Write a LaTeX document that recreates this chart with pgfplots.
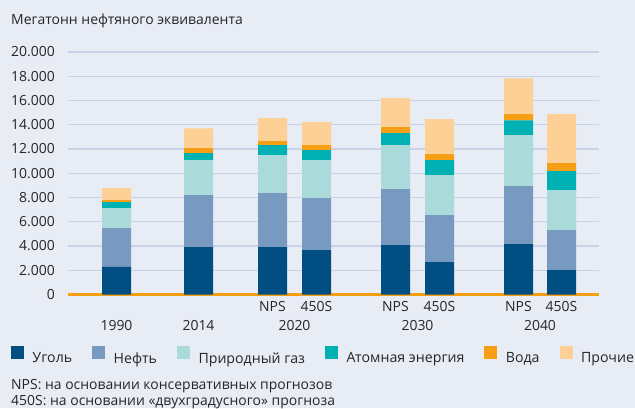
\documentclass[border=0pt]{standalone}
\usepackage{fontspec}
\setmainfont{Open Sans}
\usepackage{pgfplots}
\usepackage{pgfplotstable}
\pgfplotsset{compat=1.18}
\definecolor{bg}{HTML}{E8ECF5}
\definecolor{gridc}{HTML}{C9D2E6}
\definecolor{txt}{HTML}{262626}
\definecolor{coal}{HTML}{004E82}
\definecolor{oil}{HTML}{7899C0}
\definecolor{gas}{HTML}{AADBDA}
\definecolor{nuc}{HTML}{00B1B4}
\definecolor{hydro}{HTML}{F69E14}
\definecolor{other}{HTML}{FDD095}
\pgfplotstableread{
x     coal oil  gas  nuc  hydro other
116.5 2270 3210 1650 490  160   990
198.5 3910 4290 2880 580  410   1640
272.5 3910 4450 3130 820  330   1900
316.5 3670 4280 3130 820  410   1900
395.5 4080 4610 3620 990  500   2390
439.5 2680 3870 3290 1240 490   2890
518.5 4160 4780 4200 1230 500   2960
561.5 2020 3290 3300 1560 660   4040
}\data
\newcommand{\fs}{\fontsize{14}{16}\selectfont}
\newcommand{\fsl}{\fontsize{14.2}{16}\selectfont}
\begin{document}
\begin{tikzpicture}[x=1bp,y=1bp,font=\fs,text=txt]
\useasboundingbox[fill=bg] (0,0) rectangle (635,408);
\begin{axis}[
  at={(68bp,113.5bp)}, anchor=south west, scale only axis,
  width=531bp, height=242.5bp,
  xmin=68, xmax=599, ymin=0, ymax=20000,
  clip=false,
  axis line style={draw=none},
  xtick=\empty,
  ytick={0,2000,...,20000},
  ymajorgrids, grid style={gridc, line width=1.4bp},
  major tick length=0pt,
  ytick style={draw=none},
  yticklabel style={font=\fs, text=txt, anchor=east, inner sep=0pt, xshift=-13bp,
    /pgf/number format/.cd, 1000 sep={.}, assume math mode=true},
  scaled y ticks=false,
  ybar stacked, bar width=29bp,
  every axis plot/.append style={draw=none},
  legend columns=6,
  legend style={at={(axis cs:11,-5031)}, anchor=west, draw=none, fill=none,
    inner sep=0pt, outer sep=0pt, font=\fsl, text=txt,
    nodes={inner sep=0pt},
    /tikz/every odd column/.append style={column sep=8.5bp},
    /tikz/every even column/.append style={column sep=20bp}},
  legend cell align=left,
  legend image code/.code={\fill[#1] (0bp,-1bp) rectangle (13bp,12bp);},
]
\addplot[fill=coal] table[x=x,y=coal]{\data};
\addlegendentry{Уголь}
\addplot[fill=oil] table[x=x,y=oil]{\data};
\addlegendentry{Нефть}
\addplot[fill=gas] table[x=x,y=gas]{\data};
\addlegendentry{Природный газ}
\addplot[fill=nuc] table[x=x,y=nuc]{\data};
\addlegendentry{Атомная энергия}
\addplot[fill=hydro] table[x=x,y=hydro]{\data};
\addlegendentry{Вода}
\addplot[fill=other] table[x=x,y=other]{\data};
\addlegendentry{Прочие}
\draw[hydro, line width=2.5bp] (axis cs:68,0) -- (axis cs:599,0);
\end{axis}
\node[anchor=base west, inner sep=0pt] at (11,384) {Мегатонн нефтяного эквивалента};
\foreach \xx/\lab in {272.5/NPS,316.5/450S,395.5/NPS,439.5/450S,518.5/NPS,561.5/450S}
  \node[anchor=base, inner sep=0pt] at (\xx,96.5) {\lab};
\foreach \xx/\lab in {116.5/1990,198.5/2014,294.5/2020,417.5/2030,540/2040}
  \node[anchor=base, inner sep=0pt] at (\xx,78) {\lab};
\node[anchor=base west, inner sep=0pt] at (11,19) {NPS: на основании консервативных прогнозов};
\node[anchor=base west, inner sep=0pt] at (11,3) {450S: на основании «двухградусного» прогноза};
\end{tikzpicture}
\end{document}
